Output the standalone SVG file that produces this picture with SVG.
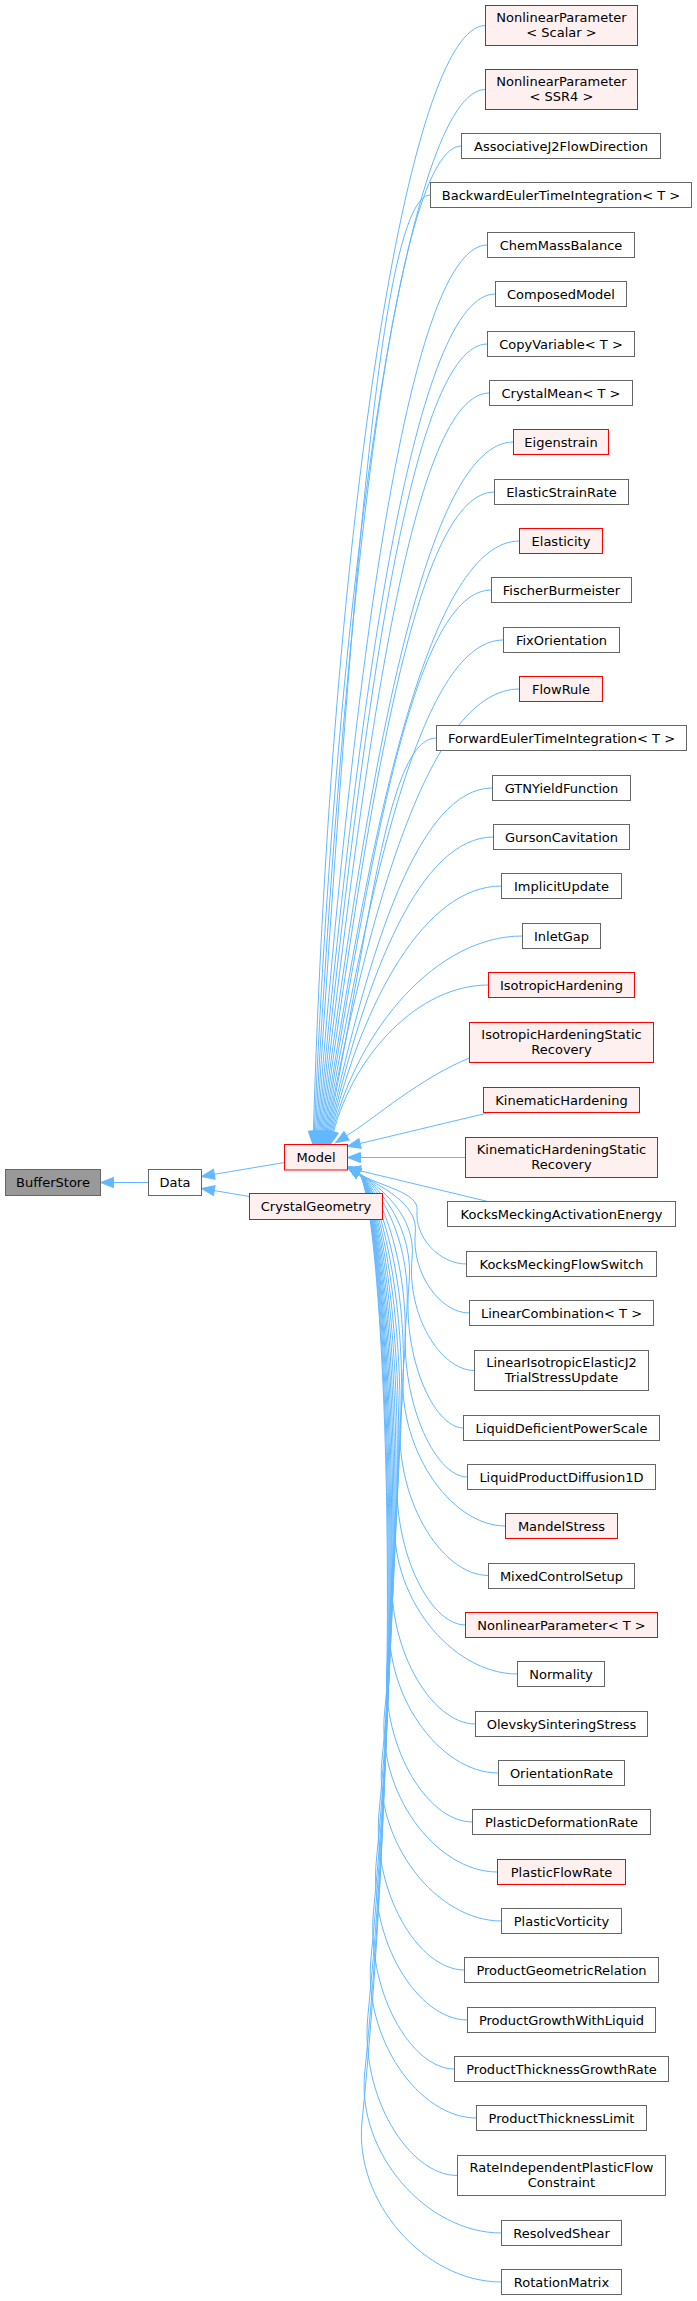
<svg xmlns="http://www.w3.org/2000/svg" width="697" height="2301" viewBox="0 0 697 2301">
<style>
text{font-family:"DejaVu Sans","Liberation Sans",sans-serif;font-size:13px;fill:#000;text-anchor:middle}
.g rect{fill:#fff;stroke:#666;stroke-width:1}
.r rect{fill:#fff0f0;stroke:#f00;stroke-width:1}
.root rect{fill:#999;stroke:#666;stroke-width:1}
#edges path{fill:none;stroke:#63b8ff;stroke-width:1;marker-start:url(#ah)}
</style>
<defs>
<marker id="ah" markerUnits="userSpaceOnUse" markerWidth="13" markerHeight="10" viewBox="0 0 13 10" refX="0" refY="5" orient="auto-start-reverse" overflow="visible">
<path d="M0,0 L13,5 L0,10 z" fill="#63b8ff" stroke="#63b8ff" stroke-width="1"/>
</marker>
</defs>
<rect width="697" height="2301" fill="#fff"/>
<g id="edges">
<path d="M113.5,1182.5 L148.5,1182.5"/>
<path d="M214.3,1174.3 L284.5,1162.5"/>
<path d="M214.3,1190.6 L249.5,1196.5"/>
<path d="M313.4,1131.5 C331.6,523.4 408.1,25.5 485.5,25.5"/>
<path d="M314.4,1131.5 C338.5,558.9 408.5,89.5 485.5,89.5"/>
<path d="M315.5,1131.5 C344.8,590.3 395.8,146 461.5,146"/>
<path d="M316.6,1131.5 C350.6,617.5 379.2,195 430.5,195"/>
<path d="M317.6,1131.5 C355.6,645.4 411,245 487.5,245"/>
<path d="M318.7,1131.6 C360.2,672.8 415.9,294 495.5,294"/>
<path d="M319.7,1131.6 C363.9,700.7 412,344 487.5,344"/>
<path d="M320.8,1131.6 C367.1,728 413.6,393 489.5,393"/>
<path d="M321.8,1131.6 C369.6,755.3 427.2,442 513.5,442"/>
<path d="M322.9,1131.6 C371.4,783.2 417.3,492 494.5,492"/>
<path d="M324,1131.6 C372.7,810.5 431.5,541 519.5,541"/>
<path d="M325,1131.7 C373.3,837.7 416.6,590 491.5,590"/>
<path d="M326.1,1131.7 C373.1,865.4 423.7,640 503.5,640"/>
<path d="M327.1,1131.7 C372.4,892.5 432.9,689 519.5,689"/>
<path d="M328.2,1131.8 C371.1,919.5 387.8,738 436.5,738"/>
<path d="M329.2,1131.8 C368.9,946.9 419,788 492.5,788"/>
<path d="M330.3,1131.8 C366.3,973.8 420.1,837 493.5,837"/>
<path d="M331.3,1131.9 C362.9,1000.5 424.9,886 501.5,886"/>
<path d="M332.4,1131.9 C358.9,1027.5 437,936 522.5,936"/>
<path d="M333.5,1132 C354.4,1053.8 418.7,985 488.5,985"/>
<path d="M346.6,1135.8 C375,1118 420,1078 469.5,1058"/>
<path d="M360.1,1143.5 L489.5,1112.5"/>
<path d="M360.5,1157.5 L465.5,1157.5"/>
<path d="M360.1,1170.8 L487.9,1201.5"/>
<path d="M358.6,1173.4 C379.9,1186.6 418.9,1191.9 417.1,1210.4 C414.4,1237.2 439.3,1264 466.5,1264"/>
<path d="M358.6,1173.4 C379.9,1186.6 418.3,1202.9 415.3,1232.4 C411.3,1272.7 439.7,1313 469.5,1313"/>
<path d="M358.6,1173.4 C379.9,1186.6 416.4,1215.8 412.1,1258.3 C406.5,1314.4 440.2,1370.5 474.5,1370.5"/>
<path d="M358.6,1173.4 C379.9,1186.6 414.5,1228.8 409,1284.2 C401.8,1356.1 433.5,1428 463.5,1428"/>
<path d="M358.6,1173.4 C379.9,1186.6 413.5,1245.2 406.3,1317 C398.3,1397 433.8,1477 467.5,1477"/>
<path d="M358.6,1173.4 C379.9,1186.6 413.2,1269.7 403.6,1366 C395.6,1446 449.5,1526 505.5,1526"/>
<path d="M358.6,1173.4 C379.9,1186.6 413,1294.4 400.9,1415.5 C392.9,1495.5 440.3,1575.5 488.5,1575.5"/>
<path d="M358.6,1173.4 C379.9,1186.6 412.7,1319.2 398.1,1465 C390.1,1545 428.4,1625 465.5,1625"/>
<path d="M358.6,1173.4 C379.9,1186.6 412.4,1343.7 395.4,1514 C387.4,1594 450.4,1674 517.5,1674"/>
<path d="M358.6,1173.4 C379.9,1186.6 412.2,1368.7 392.7,1564 C384.7,1644 430,1724 475.5,1724"/>
<path d="M358.6,1173.4 C379.9,1186.6 412,1393.2 390,1613 C382,1693 438.8,1773 498.5,1773"/>
<path d="M358.6,1173.4 C379.9,1186.6 411.7,1417.7 387.3,1662 C379.3,1742 425.6,1822 472.5,1822"/>
<path d="M358.6,1173.4 C379.9,1186.6 411.5,1442.7 384.6,1712 C376.6,1792 435.4,1872 497.5,1872"/>
<path d="M358.6,1173.4 C379.9,1186.6 411.3,1467.2 381.9,1761 C373.9,1841 435.7,1921 501.5,1921"/>
<path d="M358.6,1173.4 C379.9,1186.6 411,1491.7 379.2,1810 C371.2,1890 417.6,1970 464.5,1970"/>
<path d="M358.6,1173.4 C379.9,1186.6 410.7,1516.7 376.4,1860 C368.4,1940 417.4,2020 467.5,2020"/>
<path d="M358.6,1173.4 C379.9,1186.6 410.5,1541.2 373.7,1909 C365.7,1989 410.1,2069 454.5,2069"/>
<path d="M358.6,1173.4 C379.9,1186.6 410.2,1565.7 371,1958 C363,2038 418.5,2118 476.5,2118"/>
<path d="M358.6,1173.4 C379.9,1186.6 410,1594.4 367.9,2015.5 C359.9,2095.5 408.2,2175.5 457.5,2175.5"/>
<path d="M358.6,1173.4 C379.9,1186.6 409.7,1623.2 364.7,2073 C356.7,2153 426.3,2233 501.5,2233"/>
<path d="M358.6,1173.4 C379.9,1186.6 409.4,1647.7 362,2122 C354,2202 424.8,2282 501.5,2282"/>
</g>
<g id="BufferStore" class="root"><rect x="5.5" y="1169.5" width="95" height="26"/><text x="53" y="1186.5">BufferStore</text></g>
<g id="Data" class="g"><rect x="148.5" y="1169.5" width="53" height="26"/><text x="175" y="1186.5">Data</text></g>
<g id="Model" class="r"><rect x="284.5" y="1144.5" width="63" height="25.5"/><text x="316" y="1161.5">Model</text></g>
<g id="CrystalGeometry" class="r"><rect x="249.5" y="1193.5" width="133" height="26"/><text x="316" y="1210.5">CrystalGeometry</text></g>
<g id="n1" class="r"><rect x="485.5" y="5.5" width="152" height="40"/><text x="561.5" y="21.5">NonlinearParameter</text><text x="561.5" y="36.5">&lt; Scalar &gt;</text></g>
<g id="n2" class="r"><rect x="485.5" y="69.5" width="152" height="40"/><text x="561.5" y="85.5">NonlinearParameter</text><text x="561.5" y="100.5">&lt; SSR4 &gt;</text></g>
<g id="n3" class="g"><rect x="461.5" y="133.5" width="199" height="25"/><text x="561" y="150.5">AssociativeJ2FlowDirection</text></g>
<g id="n4" class="g"><rect x="430.5" y="182.5" width="261" height="25"/><text x="561" y="199.5">BackwardEulerTimeIntegration&lt; T &gt;</text></g>
<g id="n5" class="g"><rect x="487.5" y="232.5" width="147" height="25"/><text x="561" y="249.5">ChemMassBalance</text></g>
<g id="n6" class="g"><rect x="495.5" y="281.5" width="131" height="25"/><text x="561" y="298.5">ComposedModel</text></g>
<g id="n7" class="g"><rect x="487.5" y="331.5" width="147" height="25"/><text x="561" y="348.5">CopyVariable&lt; T &gt;</text></g>
<g id="n8" class="g"><rect x="489.5" y="380.5" width="143" height="25"/><text x="561" y="397.5">CrystalMean&lt; T &gt;</text></g>
<g id="n9" class="r"><rect x="513.5" y="429.5" width="95" height="25"/><text x="561" y="446.5">Eigenstrain</text></g>
<g id="n10" class="g"><rect x="494.5" y="479.5" width="134" height="25"/><text x="561.5" y="496.5">ElasticStrainRate</text></g>
<g id="n11" class="r"><rect x="519.5" y="528.5" width="83" height="25"/><text x="561" y="545.5">Elasticity</text></g>
<g id="n12" class="g"><rect x="491.5" y="577.5" width="140" height="25"/><text x="561.5" y="594.5">FischerBurmeister</text></g>
<g id="n13" class="g"><rect x="503.5" y="627.5" width="116" height="25"/><text x="561.5" y="644.5">FixOrientation</text></g>
<g id="n14" class="r"><rect x="519.5" y="676.5" width="83" height="25"/><text x="561" y="693.5">FlowRule</text></g>
<g id="n15" class="g"><rect x="436.5" y="725.5" width="250" height="25"/><text x="561.5" y="742.5">ForwardEulerTimeIntegration&lt; T &gt;</text></g>
<g id="n16" class="g"><rect x="492.5" y="775.5" width="138" height="25"/><text x="561.5" y="792.5">GTNYieldFunction</text></g>
<g id="n17" class="g"><rect x="493.5" y="824.5" width="136" height="25"/><text x="561.5" y="841.5">GursonCavitation</text></g>
<g id="n18" class="g"><rect x="501.5" y="873.5" width="120" height="25"/><text x="561.5" y="890.5">ImplicitUpdate</text></g>
<g id="n19" class="g"><rect x="522.5" y="923.5" width="78" height="25"/><text x="561.5" y="940.5">InletGap</text></g>
<g id="n20" class="r"><rect x="488.5" y="972.5" width="146" height="25"/><text x="561.5" y="989.5">IsotropicHardening</text></g>
<g id="n21" class="r"><rect x="469.5" y="1022.5" width="184" height="40"/><text x="561.5" y="1038.5">IsotropicHardeningStatic</text><text x="561.5" y="1053.5">Recovery</text></g>
<g id="n22" class="r"><rect x="483.5" y="1087.5" width="156" height="25"/><text x="561.5" y="1104.5">KinematicHardening</text></g>
<g id="n23" class="r"><rect x="465.5" y="1137.5" width="192" height="40"/><text x="561.5" y="1153.5">KinematicHardeningStatic</text><text x="561.5" y="1168.5">Recovery</text></g>
<g id="n24" class="g"><rect x="447.5" y="1201.5" width="228" height="25"/><text x="561.5" y="1218.5">KocksMeckingActivationEnergy</text></g>
<g id="n25" class="g"><rect x="466.5" y="1251.5" width="190" height="25"/><text x="561.5" y="1268.5">KocksMeckingFlowSwitch</text></g>
<g id="n26" class="g"><rect x="469.5" y="1300.5" width="184" height="25"/><text x="561.5" y="1317.5">LinearCombination&lt; T &gt;</text></g>
<g id="n27" class="g"><rect x="474.5" y="1350.5" width="174" height="40"/><text x="561.5" y="1366.5">LinearIsotropicElasticJ2</text><text x="561.5" y="1381.5">TrialStressUpdate</text></g>
<g id="n28" class="g"><rect x="463.5" y="1415.5" width="196" height="25"/><text x="561.5" y="1432.5">LiquidDeficientPowerScale</text></g>
<g id="n29" class="g"><rect x="467.5" y="1464.5" width="188" height="25"/><text x="561.5" y="1481.5">LiquidProductDiffusion1D</text></g>
<g id="n30" class="r"><rect x="505.5" y="1513.5" width="112" height="25"/><text x="561.5" y="1530.5">MandelStress</text></g>
<g id="n31" class="g"><rect x="488.5" y="1563.5" width="146" height="25"/><text x="561.5" y="1580.5">MixedControlSetup</text></g>
<g id="n32" class="r"><rect x="465.5" y="1612.5" width="192" height="25"/><text x="561.5" y="1629.5">NonlinearParameter&lt; T &gt;</text></g>
<g id="n33" class="g"><rect x="517.5" y="1661.5" width="87" height="25"/><text x="561" y="1678.5">Normality</text></g>
<g id="n34" class="g"><rect x="475.5" y="1711.5" width="172" height="25"/><text x="561.5" y="1728.5">OlevskySinteringStress</text></g>
<g id="n35" class="g"><rect x="498.5" y="1760.5" width="126" height="25"/><text x="561.5" y="1777.5">OrientationRate</text></g>
<g id="n36" class="g"><rect x="472.5" y="1809.5" width="178" height="25"/><text x="561.5" y="1826.5">PlasticDeformationRate</text></g>
<g id="n37" class="r"><rect x="497.5" y="1859.5" width="128" height="25"/><text x="561.5" y="1876.5">PlasticFlowRate</text></g>
<g id="n38" class="g"><rect x="501.5" y="1908.5" width="120" height="25"/><text x="561.5" y="1925.5">PlasticVorticity</text></g>
<g id="n39" class="g"><rect x="464.5" y="1957.5" width="194" height="25"/><text x="561.5" y="1974.5">ProductGeometricRelation</text></g>
<g id="n40" class="g"><rect x="467.5" y="2007.5" width="188" height="25"/><text x="561.5" y="2024.5">ProductGrowthWithLiquid</text></g>
<g id="n41" class="g"><rect x="454.5" y="2056.5" width="214" height="25"/><text x="561.5" y="2073.5">ProductThicknessGrowthRate</text></g>
<g id="n42" class="g"><rect x="476.5" y="2105.5" width="170" height="25"/><text x="561.5" y="2122.5">ProductThicknessLimit</text></g>
<g id="n43" class="g"><rect x="457.5" y="2155.5" width="208" height="40"/><text x="561.5" y="2171.5">RateIndependentPlasticFlow</text><text x="561.5" y="2186.5">Constraint</text></g>
<g id="n44" class="g"><rect x="501.5" y="2220.5" width="120" height="25"/><text x="561.5" y="2237.5">ResolvedShear</text></g>
<g id="n45" class="g"><rect x="501.5" y="2269.5" width="120" height="25"/><text x="561.5" y="2286.5">RotationMatrix</text></g>
</svg>
